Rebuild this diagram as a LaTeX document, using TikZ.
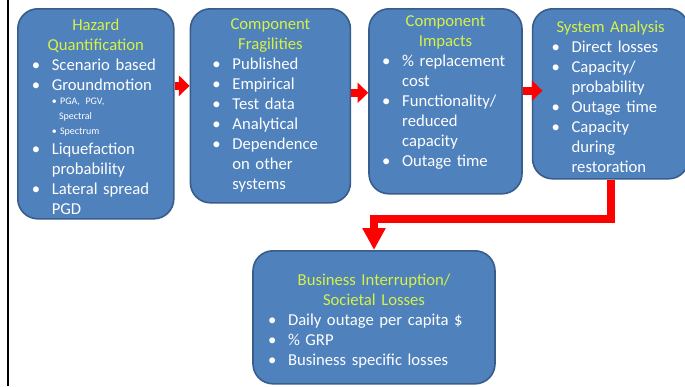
\documentclass[tikz,border=0pt]{standalone}
\usepackage{fontspec}
\setmainfont{Carlito}
\usepackage{enumitem}
\usepackage{tikz}
\usetikzlibrary{arrows.meta, positioning}

\definecolor{boxfill}{HTML}{4F81BD}
\definecolor{boxline}{HTML}{385D8A}
\definecolor{ttlcol}{HTML}{D7F244}
\newcommand{\ttl}[1]{{\centering\color{ttlcol}#1\par}}
\setlist[itemize]{label=\textbullet, leftmargin=15pt, labelwidth=8pt, labelsep=7pt, align=left, itemsep=0pt, topsep=0pt, parsep=0pt, partopsep=0pt}
\setlist[itemize,2]{label=\textbullet, leftmargin=5.5pt, labelwidth=3pt, labelsep=2.5pt, before=\fontsize{7.5}{11}\selectfont}

\begin{document}
\begin{tikzpicture}[
    x=0.75pt, y=-0.75pt,
    stage/.style={rectangle, draw=boxline, line width=1.2pt, fill=boxfill, rounded corners=15pt, text=white, align=left, anchor=north west, inner sep=0pt, font=\fontsize{12.5}{15}\selectfont},
    flow/.style={draw=red, line width=6pt, -{Triangle[width=15pt, length=8pt]}},
    drop/.style={draw=red, line width=6pt, -{Triangle[width=16.5pt, length=16.5pt]}}
]
\useasboundingbox (0,0) rectangle (685,386);
\draw[line width=2pt] (8,0) -- (8,386);

\node[stage, minimum width=117pt, minimum height=157.5pt, text width=96pt] (haz) at (17,8) {
    \ttl{Hazard\\Quantification}
    \begin{itemize}
    \item Scenario based
    \item Groundmotion\par
      \begin{itemize}
      \item PGA, PGV,\\ Spectral
      \item Spectrum
      \end{itemize}
    \item Liquefaction\\ probability
    \item Lateral spread\\ PGD
    \end{itemize}
    \vspace*{-4pt}
};

\node[stage, right=11.25pt of haz.north east, anchor=north west, minimum width=120pt, minimum height=145.5pt, text width=87pt] (frag) {
    \ttl{Component\\Fragilities}
    \begin{itemize}
    \item Published
    \item Empirical
    \item Test data
    \item Analytical
    \item Dependence\\ on other\\ systems
    \end{itemize}
};

\node[stage, right=12.75pt of frag.north east, anchor=north west, minimum width=114.75pt, minimum height=138.75pt, text width=95pt] (imp) {
    \ttl{Component\\Impacts}
    \begin{itemize}
    \item \% replacement\\ cost
    \item Functionality/\\ reduced\\ capacity
    \item Outage time
    \end{itemize}
    \vspace*{13pt}
};

\node[stage, right=6.75pt of imp.north east, anchor=north west, minimum width=117pt, minimum height=127.5pt, text width=88.5pt] (sys) {
    \ttl{System Analysis}
    \begin{itemize}
    \item Direct losses
    \item Capacity/\\ probability
    \item Outage time
    \item Capacity\\ during\\ restoration
    \end{itemize}
    \vspace*{-5pt}
};

\node[stage, anchor=north, minimum width=181.5pt, minimum height=99.75pt, text width=159pt] (biz) at (374,250) {
    \ttl{Business Interruption/\\Societal Losses}
    \begin{itemize}
    \item Daily outage per capita \$
    \item \% GRP
    \item Business specific losses
    \end{itemize}
    \vspace*{-6pt}
};

\draw[flow] ([yshift=21pt]haz.east) -- ([yshift=21pt]haz.east -| frag.west);
\draw[flow] ([yshift=9.75pt]frag.east) -- ([yshift=9.75pt]frag.east -| imp.west);
\draw[flow, shorten >=-8pt] ([yshift=8pt]imp.east) -- ([yshift=8pt]imp.east -| sys.west);
\draw[drop] (sys.south) -- ++(0,39) -| (biz.north);

\end{tikzpicture}
\end{document}
